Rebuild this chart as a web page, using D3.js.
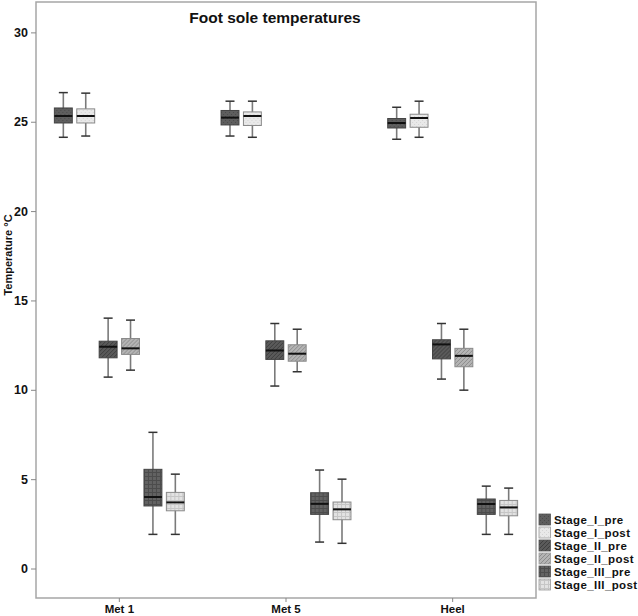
<!DOCTYPE html>
<html>
<head>
<meta charset="utf-8">
<script src="https://cdn.jsdelivr.net/npm/d3@7"></script>
<style>
  body { margin: 0; background: #fff; }
  text { font-family: "Liberation Sans", Arial, sans-serif; font-weight: bold; fill: #111; }
</style>
</head>
<body>
<script>
const categories = ['Met 1', 'Met 5', 'Heel'];
const seriesNames = ['Stage_I_pre', 'Stage_I_post', 'Stage_II_pre', 'Stage_II_post', 'Stage_III_pre', 'Stage_III_post'];
const yTicks = [0, 5, 10, 15, 20, 25, 30];

// [whisker low, q1, median, q3, whisker high] per category (Met 1, Met 5, Heel)
const stageIPre = [[24.13, 24.93, 25.32, 25.77, 26.63], [24.2, 24.82, 25.23, 25.63, 26.15], [24.02, 24.65, 24.93, 25.18, 25.81]];
const stageIPost = [[24.2, 24.93, 25.32, 25.72, 26.6], [24.13, 24.79, 25.32, 25.55, 26.15], [24.13, 24.69, 25.21, 25.42, 26.15]];
const stageIIPre = [[10.71, 11.79, 12.41, 12.72, 14.01], [10.21, 11.7, 12.2, 12.74, 13.71], [10.6, 11.73, 12.54, 12.8, 13.71]];
const stageIIPost = [[11.1, 11.98, 12.32, 12.87, 13.9], [11.01, 11.6, 12.02, 12.52, 13.39], [9.98, 11.29, 11.9, 12.32, 13.39]];
const stageIIIPre = [[1.91, 3.5, 4.0, 5.55, 7.62], [1.48, 3.03, 3.62, 4.24, 5.51], [1.91, 3.03, 3.61, 3.89, 4.61]];
const stageIIIPost = [[1.91, 3.23, 3.7, 4.26, 5.28], [1.41, 2.73, 3.31, 3.72, 5.0], [1.91, 2.95, 3.42, 3.81, 4.5]];

const seriesValues = [stageIPre, stageIPost, stageIIPre, stageIIPost, stageIIIPre, stageIIIPost];

const width = 638, height = 616;
const frame = { left: 36, right: 536, top: 2, bottom: 598 };

const svg = d3.select('body').append('svg')
  .attr('width', width)
  .attr('height', height);

// fill patterns, one per series
const defs = svg.append('defs');
const pats = [
  { id: 'p0', bg: '#5e5e5e', fg: '#4a4a4a', kind: 'dots' },
  { id: 'p1', bg: '#e9e9e9', fg: '#d4d4d4', kind: 'dots' },
  { id: 'p2', bg: '#5a5a5a', fg: '#3e3e3e', kind: 'hatch' },
  { id: 'p3', bg: '#b4b4b4', fg: '#8c8c8c', kind: 'hatch' },
  { id: 'p4', bg: '#626262', fg: '#4c4c4c', kind: 'grid' },
  { id: 'p5', bg: '#e2e2e2', fg: '#c6c6c6', kind: 'grid' }
];
pats.forEach(p => {
  const pat = defs.append('pattern')
    .attr('id', p.id)
    .attr('patternUnits', 'userSpaceOnUse')
    .attr('width', 4).attr('height', 4);
  pat.append('rect').attr('width', 4).attr('height', 4).attr('fill', p.bg);
  if (p.kind === 'dots') {
    pat.append('rect').attr('x', 0).attr('y', 0).attr('width', 1).attr('height', 1).attr('fill', p.fg);
    pat.append('rect').attr('x', 2).attr('y', 2).attr('width', 1).attr('height', 1).attr('fill', p.fg);
  } else if (p.kind === 'hatch') {
    pat.append('path').attr('d', 'M-1,1 l2,-2 M0,4 l4,-4 M3,5 l2,-2')
      .attr('stroke', p.fg).attr('stroke-width', 1);
  } else {
    pat.append('path').attr('d', 'M0,0.5 H4 M0.5,0 V4')
      .attr('stroke', p.fg).attr('stroke-width', 1);
  }
});

const x = d3.scaleBand()
  .domain(categories)
  .range([frame.left, frame.right]);

const xSub = d3.scaleBand()
  .domain(seriesNames)
  .range([-67.2, 67.2])
  .paddingInner(0.2)
  .paddingOuter(0.1);

const y = d3.scaleLinear()
  .domain([-1.65, 31.7])
  .range([frame.bottom, frame.top]);

// frame
svg.append('rect')
  .attr('x', frame.left).attr('y', frame.top)
  .attr('width', frame.right - frame.left)
  .attr('height', frame.bottom - frame.top)
  .attr('fill', 'none')
  .attr('stroke', '#a6a6a6')
  .attr('stroke-width', 1.5);

// y axis
const yAxis = d3.axisLeft(y).tickValues(yTicks).tickSize(5).tickPadding(3);
const gy = svg.append('g')
  .attr('transform', 'translate(' + frame.left + ',0)')
  .call(yAxis);
gy.select('.domain').remove();
gy.selectAll('.tick line').attr('stroke', '#888');
gy.selectAll('.tick text').style('font-size', '12.5px').attr('fill', '#111');

// x axis
const xAxis = d3.axisBottom(x).tickSize(4).tickPadding(3);
const gx = svg.append('g')
  .attr('transform', 'translate(0,' + frame.bottom + ')')
  .call(xAxis);
gx.select('.domain').remove();
gx.selectAll('.tick line').attr('stroke', '#888');
gx.selectAll('.tick text').style('font-size', '11.5px').attr('fill', '#111');

// title
svg.append('text')
  .attr('x', 275)
  .attr('y', 23)
  .attr('text-anchor', 'middle')
  .style('font-size', '15.5px')
  .text('Foot sole temperatures');

// y label
svg.append('text')
  .attr('transform', 'rotate(-90)')
  .attr('x', -255)
  .attr('y', 12)
  .attr('text-anchor', 'middle')
  .style('font-size', '11px')
  .text('Temperature °C');

// boxes
const bw = xSub.bandwidth();
const cap = 9;
seriesNames.forEach((name, si) => {
  const g = svg.append('g').attr('class', 'series');
  const dark = si % 2 === 0;
  const items = categories.map((c, ci) => ({ cat: c, v: seriesValues[si][ci] }));
  const box = g.selectAll('g')
    .data(items)
    .enter()
    .append('g')
    .attr('transform', d => 'translate(' + (x(d.cat) + x.bandwidth() / 2 + xSub(name)) + ',0)');

  box.append('line')
    .attr('x1', bw / 2).attr('x2', bw / 2)
    .attr('y1', d => y(d.v[0])).attr('y2', d => y(d.v[4]))
    .attr('stroke', '#7a7a7a').attr('stroke-width', 1.6);

  box.selectAll('.cap')
    .data(d => [d.v[0], d.v[4]])
    .enter()
    .append('line')
    .attr('x1', bw / 2 - cap / 2).attr('x2', bw / 2 + cap / 2)
    .attr('y1', d => y(d)).attr('y2', d => y(d))
    .attr('stroke', '#333').attr('stroke-width', 1.5);

  box.append('rect')
    .attr('x', 0)
    .attr('width', bw)
    .attr('y', d => y(d.v[3]))
    .attr('height', d => y(d.v[1]) - y(d.v[3]))
    .attr('fill', 'url(#p' + si + ')')
    .attr('stroke', dark ? '#444' : '#8a8a8a')
    .attr('stroke-width', 1);

  box.append('line')
    .attr('x1', 0).attr('x2', bw)
    .attr('y1', d => y(d.v[2])).attr('y2', d => y(d.v[2]))
    .attr('stroke', '#111').attr('stroke-width', 2);
});

// legend
const legend = svg.append('g').attr('class', 'legend');
const rowY = d3.scalePoint().domain(seriesNames).range([519.5, 584.5]);
legend.selectAll('rect')
  .data(seriesNames)
  .enter()
  .append('rect')
  .attr('x', 539)
  .attr('y', d => rowY(d) - 5.5)
  .attr('width', 11.5)
  .attr('height', 11)
  .attr('fill', (d, i) => 'url(#p' + i + ')')
  .attr('stroke', (d, i) => i % 2 === 0 ? '#555' : '#999')
  .attr('stroke-width', 0.8);
legend.selectAll('text')
  .data(seriesNames)
  .enter()
  .append('text')
  .attr('x', 554)
  .attr('y', d => rowY(d) + 4)
  .style('font-size', '11.5px')
  .style('letter-spacing', '0.4px')
  .text(d => d);
</script>
</body>
</html>
